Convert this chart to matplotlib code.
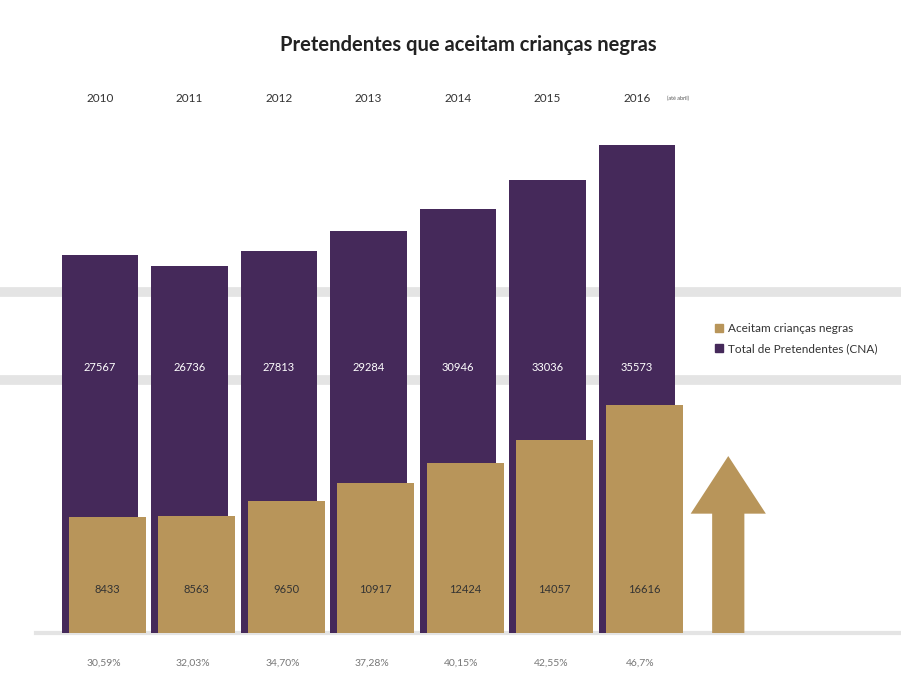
import matplotlib.pyplot as plt
from matplotlib.patches import FancyArrow, Patch

plt.rcParams['font.family'] = ['Lato', 'DejaVu Sans']

anos = ['2010', '2011', '2012', '2013', '2014', '2015', '2016']
total = [27567, 26736, 27813, 29284, 30946, 33036, 35573]
aceitam = [8433, 8563, 9650, 10917, 12424, 14057, 16616]
percent = ['30,59%', '32,03%', '34,70%', '37,28%', '40,15%', '42,55%', '46,7%']

roxo = '#45295a'
ouro = '#b8955a'

fig = plt.figure(figsize=(9.01, 6.91), dpi=100)
ax = fig.add_axes([0, 0, 1, 1])
ax.set_xlim(-1.117, 8.95)
ax.set_ylim(-4228, 46146)
ax.axis('off')

# faixas cinza de fundo
for yy in [24859, 18444]:
    ax.axhline(yy, color='#e4e4e4', lw=7, zorder=0)
ax.axhline(0, xmin=0.04, color='#e4e4e4', lw=3, zorder=0)

x = list(range(len(anos)))
ax.bar(x, total, width=0.85, color=roxo, zorder=2)
ax.bar([i + 0.08 for i in x], aceitam, width=0.86, color=ouro, zorder=3)

for i in x:
    ax.text(i, 19391, str(total[i]), ha='center', va='center', color='white', fontsize=8, zorder=4)
    ax.text(i + 0.08, 3135, str(aceitam[i]), ha='center', va='center', color='#333333', fontsize=8, zorder=4)
    ax.text(i + 0.04, -2187, percent[i], ha='center', va='center', color='#777777', fontsize=7.5)
    ax.text(i, 39000, anos[i], ha='center', va='center', color='#333333', fontsize=8.5)
ax.text(6.33, 39000, '(até abril)', ha='left', va='center', color='#555555', fontsize=4)

# seta de crescimento
ax.add_patch(FancyArrow(7.02, 0, 0, 12900, width=0.36, head_width=0.84, head_length=4200,
                        length_includes_head=True, color=ouro, lw=0, zorder=3))

fig.suptitle('Pretendentes que aceitam crianças negras', x=0.52, y=0.95, fontsize=14.5,
             fontweight='bold', color='#222222')

handles = [Patch(color=ouro), Patch(color=roxo)]
fig.legend(handles, ['Aceitam crianças negras', 'Total de Pretendentes (CNA)'],
           loc='center left', bbox_to_anchor=(0.782, 0.51), frameon=False, fontsize=8.5,
           handlelength=0.7, handleheight=0.7, handletextpad=0.4, labelspacing=0.8,
           labelcolor='#333333')

fig.savefig('out.png', dpi=100, facecolor='white')
